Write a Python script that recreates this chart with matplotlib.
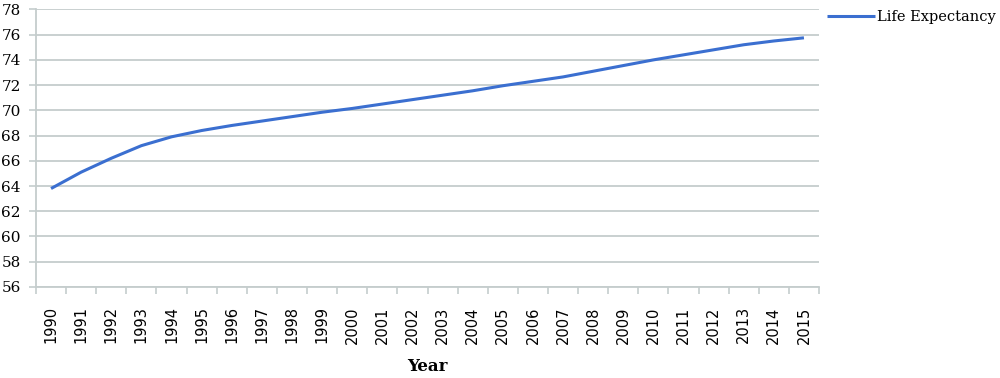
import matplotlib
matplotlib.use("Agg")
import matplotlib.pyplot as plt
from matplotlib.ticker import FixedLocator

years = list(range(1990, 2016))
life_expectancy = [63.8, 65.1, 66.2, 67.2, 67.9, 68.4, 68.8, 69.15, 69.5, 69.85,
                   70.15, 70.5, 70.85, 71.2, 71.55, 71.95, 72.3, 72.65, 73.1, 73.55,
                   74.0, 74.4, 74.8, 75.2, 75.5, 75.75]
y_ticks = list(range(56, 80, 2))

grid_col = "#c5cdcd"
blue = "#3b6fd0"
serif = "DejaVu Serif"

fig = plt.figure(figsize=(10, 3.78), dpi=100)
ax = fig.add_axes([0.036, 0.241, 0.783, 0.734])

x = list(range(len(years)))
line, = ax.plot(x, life_expectancy, color=blue, linewidth=2.2,
                solid_capstyle="butt", label="Life Expectancy")

ax.set_xlim(-0.5, len(years) - 0.5)
ax.set_ylim(56, 78)
ax.set_yticks(y_ticks)
ax.set_yticklabels([str(v) for v in y_ticks], family=serif, fontsize=11)
ax.yaxis.grid(True, color=grid_col, linewidth=1.3)
ax.set_axisbelow(True)

# category labels at centres, tick marks between categories (Excel style)
ax.set_xticks(x)
ax.set_xticklabels([str(y) for y in years], rotation=90, family="DejaVu Sans",
                   fontsize=10.5)
ax.xaxis.set_minor_locator(FixedLocator([i - 0.5 for i in range(len(years) + 1)]))
ax.tick_params(axis="x", which="major", length=0, pad=14)
ax.tick_params(axis="x", which="minor", length=5, width=1.2, color=grid_col)
ax.tick_params(axis="y", length=5, width=1.2, color=grid_col, pad=6)

for side in ["top", "right"]:
    ax.spines[side].set_visible(False)
ax.spines["left"].set_color(grid_col)
ax.spines["bottom"].set_color(grid_col)
ax.spines["left"].set_linewidth(1.3)
ax.spines["bottom"].set_linewidth(1.3)

ax.set_xlabel("Year", family=serif, fontweight="bold", fontsize=12, labelpad=10)

fig.legend(handles=[line], loc="upper left", bbox_to_anchor=(0.821, 0.99),
           frameon=False, prop={"family": serif, "size": 10.5},
           handlelength=3.3, handletextpad=0.15, borderaxespad=0)

fig.savefig("out.png", dpi=100)
